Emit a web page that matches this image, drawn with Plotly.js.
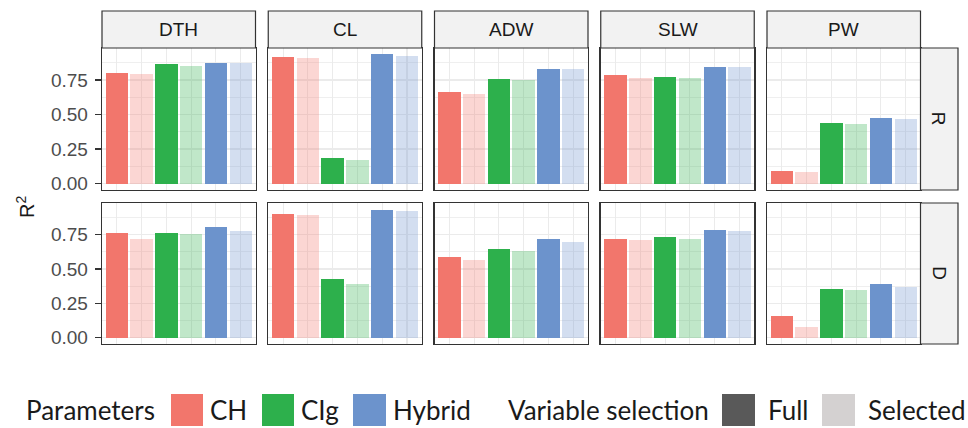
<!DOCTYPE html>
<html><head><meta charset="utf-8">
<script src="https://cdn.plot.ly/plotly-3.0.1.min.js"></script>
<style>html,body{margin:0;padding:0;background:#fff;} #chart{width:968px;height:428px;}</style>
</head><body><div id="chart"></div>
<script>
// ---- data ----
const traits = ['DTH', 'CL', 'ADW', 'SLW', 'PW'];
const rowLabels = ['R', 'D'];
const params = ['CH', 'CIg', 'Hybrid'];
const selections = ['Full', 'Selected'];
const barCategories = ['CH Full', 'CH Selected', 'CIg Full', 'CIg Selected', 'Hybrid Full', 'Hybrid Selected'];
const yTickVals = [0, 0.25, 0.5, 0.75];
const yTickText = ['0.00', '0.25', '0.50', '0.75'];

// R² values in order: CH-Full, CH-Selected, CIg-Full, CIg-Selected, Hybrid-Full, Hybrid-Selected
const R_DTH = [0.803, 0.793, 0.866, 0.849, 0.873, 0.871];
const R_CL  = [0.919, 0.912, 0.186, 0.169, 0.934, 0.924];
const R_ADW = [0.663, 0.651, 0.755, 0.752, 0.832, 0.827];
const R_SLW = [0.784, 0.767, 0.772, 0.764, 0.847, 0.840];
const R_PW  = [0.087, 0.085, 0.438, 0.433, 0.474, 0.467];
const D_DTH = [0.760, 0.716, 0.765, 0.757, 0.803, 0.777];
const D_CL  = [0.903, 0.896, 0.427, 0.389, 0.930, 0.920];
const D_ADW = [0.587, 0.566, 0.647, 0.628, 0.716, 0.698];
const D_SLW = [0.716, 0.712, 0.731, 0.719, 0.784, 0.777];
const D_PW  = [0.154, 0.078, 0.353, 0.350, 0.393, 0.368];

const rowValues = [
  [R_DTH, R_CL, R_ADW, R_SLW, R_PW],
  [D_DTH, D_CL, D_ADW, D_SLW, D_PW]
];

// ---- styles ----
const paramRGB = [[242, 118, 108], [45, 176, 76], [108, 147, 204]];
const selAlpha = [1, 0.3];
const W = 968, H = 428;
const colLeft0 = 102, colStep = 166.25, panelW = 153.5;
const rowTop = [48, 203], rowBottom = [190, 344];
const stripTop = 11, rightStripX0 = 920.5, rightStripX1 = 958;
const borderColor = '#333333';
const gridColor = '#EBEBEB';
const stripFill = '#F2F2F2';
const axisFont = 'Liberation Sans, Arial, sans-serif';
const legendFont = 'Lato, Noto Sans, sans-serif';

const px = v => v / W;
const py = v => 1 - v / H;

const traces = [];
const layout = {
  width: W, height: H,
  margin: {l: 0, r: 0, t: 0, b: 0},
  paper_bgcolor: '#ffffff', plot_bgcolor: '#ffffff',
  showlegend: false,
  bargap: 0,
  shapes: [], annotations: []
};

for (let r = 0; r < rowLabels.length; r++) {
  for (let c = 0; c < traits.length; c++) {
    const idx = r * traits.length + c + 1;
    const sfx = idx === 1 ? '' : String(idx);
    const x0 = colLeft0 + c * colStep, x1 = x0 + panelW;
    const colors = barCategories.map((_, i) => {
      const p = paramRGB[Math.floor(i / 2)];
      return `rgba(${p[0]},${p[1]},${p[2]},${selAlpha[i % 2]})`;
    });
    traces.push({
      type: 'bar', x: barCategories, y: rowValues[r][c],
      xaxis: 'x' + sfx, yaxis: 'y' + sfx,
      width: 0.9,
      marker: {color: colors, line: {width: 0}},
      hoverinfo: 'x+y'
    });
    layout['xaxis' + sfx] = {
      domain: [px(x0), px(x1)], anchor: 'y' + sfx,
      type: 'category', categoryorder: 'array', categoryarray: barCategories,
      range: [-0.6, 5.6], showticklabels: false, ticks: '',
      showgrid: true, gridcolor: gridColor, gridwidth: 1.2,
      showline: true, mirror: true, linecolor: borderColor, linewidth: 1.3,
      zeroline: false, fixedrange: true
    };
    layout['yaxis' + sfx] = {
      domain: [py(rowBottom[r]), py(rowTop[r])], anchor: 'x' + sfx,
      range: [-0.047, 0.981],
      tickmode: 'array', tickvals: yTickVals, ticktext: yTickText,
      showticklabels: c === 0, ticks: c === 0 ? 'outside' : '',
      ticklen: 6, tickwidth: 1.3, tickcolor: borderColor,
      ticklabelstandoff: 3,
      tickfont: {family: axisFont, size: 19, color: '#4D4D4D'},
      showgrid: true, gridcolor: gridColor, gridwidth: 1.2,
      minor: {tickvals: [0.125, 0.375, 0.625, 0.875], ticks: '', showgrid: true, gridcolor: gridColor, gridwidth: 0.8},
      showline: true, mirror: true, linecolor: borderColor, linewidth: 1.3,
      zeroline: false, fixedrange: true
    };
    if (r === 0) {
      layout.shapes.push({type: 'rect', xref: 'paper', yref: 'paper',
        x0: px(x0), x1: px(x1), y0: py(rowTop[0]), y1: py(stripTop),
        fillcolor: stripFill, line: {color: borderColor, width: 1.2}, layer: 'above'});
      layout.annotations.push({xref: 'paper', yref: 'paper', x: px((x0 + x1) / 2), y: py((stripTop + rowTop[0]) / 2),
        text: traits[c], showarrow: false, xanchor: 'center', yanchor: 'middle',
        font: {family: axisFont, size: 19, color: '#1A1A1A'}});
    }
  }
  layout.shapes.push({type: 'rect', xref: 'paper', yref: 'paper',
    x0: px(rightStripX0), x1: px(rightStripX1), y0: py(rowBottom[r]), y1: py(rowTop[r]),
    fillcolor: stripFill, line: {color: borderColor, width: 1.2}, layer: 'above'});
  layout.annotations.push({xref: 'paper', yref: 'paper', x: px((rightStripX0 + rightStripX1) / 2), y: py((rowTop[r] + rowBottom[r]) / 2),
    text: rowLabels[r], showarrow: false, textangle: 90, xanchor: 'center', yanchor: 'middle',
    font: {family: axisFont, size: 19, color: '#1A1A1A'}});
}

// y axis title
layout.annotations.push({xref: 'paper', yref: 'paper', x: px(25), y: py(207),
  text: 'R<sup>2</sup>', showarrow: false, textangle: -90, xanchor: 'center', yanchor: 'middle',
  font: {family: axisFont, size: 20, color: '#1A1A1A'}});

// ---- legend (drawn manually) ----
const legY = 410, swH = 32;
function legText(x, t) {
  layout.annotations.push({xref: 'paper', yref: 'paper', x: px(x), y: py(legY), text: t,
    showarrow: false, xanchor: 'left', yanchor: 'middle',
    font: {family: legendFont, size: 26, color: '#1A1A1A'}});
}
function legSwatch(x0, x1, color) {
  layout.shapes.push({type: 'rect', xref: 'paper', yref: 'paper',
    x0: px(x0), x1: px(x1), y0: py(legY + swH / 2), y1: py(legY - swH / 2),
    fillcolor: color, line: {width: 0}});
}
legText(24, 'Parameters');
const paramSw = [[171, 203, 208], [262, 294, 299], [353, 386, 391]];
params.forEach((p, i) => {
  const c = paramRGB[i];
  legSwatch(paramSw[i][0], paramSw[i][1], `rgb(${c[0]},${c[1]},${c[2]})`);
  legText(paramSw[i][2], p);
});
legText(506, 'Variable selection');
const selSw = [[722, 755, 766, '#595959'], [822, 855, 866, '#D4D1D1']];
selections.forEach((s, i) => {
  legSwatch(selSw[i][0], selSw[i][1], selSw[i][3]);
  legText(selSw[i][2], s);
});

Plotly.newPlot('chart', traces, layout, {displayModeBar: false, staticPlot: true});
</script>
</body></html>
